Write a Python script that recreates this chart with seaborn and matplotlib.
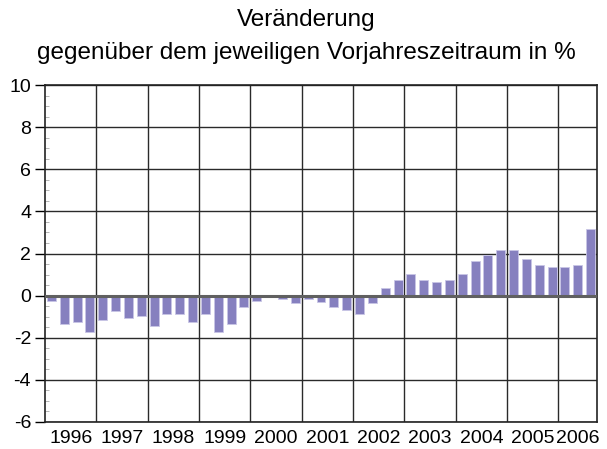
import matplotlib
matplotlib.use('Agg')
import matplotlib.pyplot as plt
from matplotlib.ticker import MultipleLocator
import seaborn as sns
import pandas as pd

# Quartalswerte 1996 Q1 - 2006 Q3
jahre = ['1996', '1997', '1998', '1999', '2000', '2001',
         '2002', '2003', '2004', '2005', '2006']
werte = [-0.25, -1.35, -1.25, -1.75,
         -1.15, -0.75, -1.05, -0.95,
         -1.45, -0.85, -0.85, -1.25,
         -0.85, -1.75, -1.35, -0.55,
         -0.25, 0.0, -0.15, -0.35,
         -0.15, -0.28, -0.55, -0.67,
         -0.85, -0.35, 0.35, 0.75,
         1.05, 0.75, 0.65, 0.75,
         1.05, 1.65, 1.95, 2.15,
         2.15, 1.75, 1.45, 1.35,
         1.35, 1.45, 3.15]

quartale = [f'{j} Q{q}' for j in jahre for q in range(1, 5)][:len(werte)]
df = pd.DataFrame({'quartal': quartale, 'wert': werte})

sns.set_style('white')
plt.rcParams['font.family'] = ['Liberation Sans', 'DejaVu Sans']
plt.rcParams['axes.unicode_minus'] = False
plt.rcParams['text.color'] = 'black'
plt.rcParams['xtick.color'] = 'black'
plt.rcParams['ytick.color'] = 'black'

fig = plt.figure(figsize=(6.07, 4.49), dpi=100)
ax = fig.add_axes([45/607, 1 - 422/449, 552/607, 337/449])

sns.barplot(data=df, x='quartal', y='wert', color='#8680bf', saturation=1,
            width=0.7, edgecolor='#c9c6e6', linewidth=0.6, ax=ax, zorder=3)

ax.set_xlim(-0.5, len(werte) - 0.5)
ax.set_ylim(-6, 10)

# Jahresgrenzen und horizontale Gitterlinien
for i in range(1, len(jahre)):
    ax.axvline(i * 4 - 0.5, color='#2a2a2a', lw=1.0, zorder=1)
ax.yaxis.set_major_locator(MultipleLocator(2))
ax.yaxis.set_minor_locator(MultipleLocator(0.5))
ax.grid(axis='y', which='major', color='#2a2a2a', lw=1.0, zorder=1)
ax.axhline(0, color='#606060', lw=2.2, zorder=4)

# Jahresbeschriftung mittig im Jahr
mitten = [min(i * 4 + 1.5, (i * 4 - 0.5 + len(werte) - 0.5) / 2) for i in range(len(jahre))]
ax.set_xticks(mitten)
ax.set_xticklabels(jahre, fontsize=14)
ax.tick_params(axis='x', length=0, pad=6)
ax.set_yticks(range(-6, 11, 2))
ax.set_yticklabels([str(v) for v in range(-6, 11, 2)], fontsize=14)
ax.tick_params(axis='y', which='major', direction='out', length=7, width=1, left=True, pad=3)
ax.tick_params(axis='y', which='minor', direction='in', length=3, width=0.6,
               color='#aaaaaa', left=True, right=False)
ax.set_xlabel('')
ax.set_ylabel('')

for s in ax.spines.values():
    s.set_color('#222222')
    s.set_linewidth(1.2)

fig.text(0.505, 0.955, 'Veränderung', ha='center', va='center', fontsize=17.5)
fig.text(0.505, 0.883, 'gegenüber dem jeweiligen Vorjahreszeitraum in %', ha='center', va='center', fontsize=17.5)

fig.savefig('out.png', dpi=100)
